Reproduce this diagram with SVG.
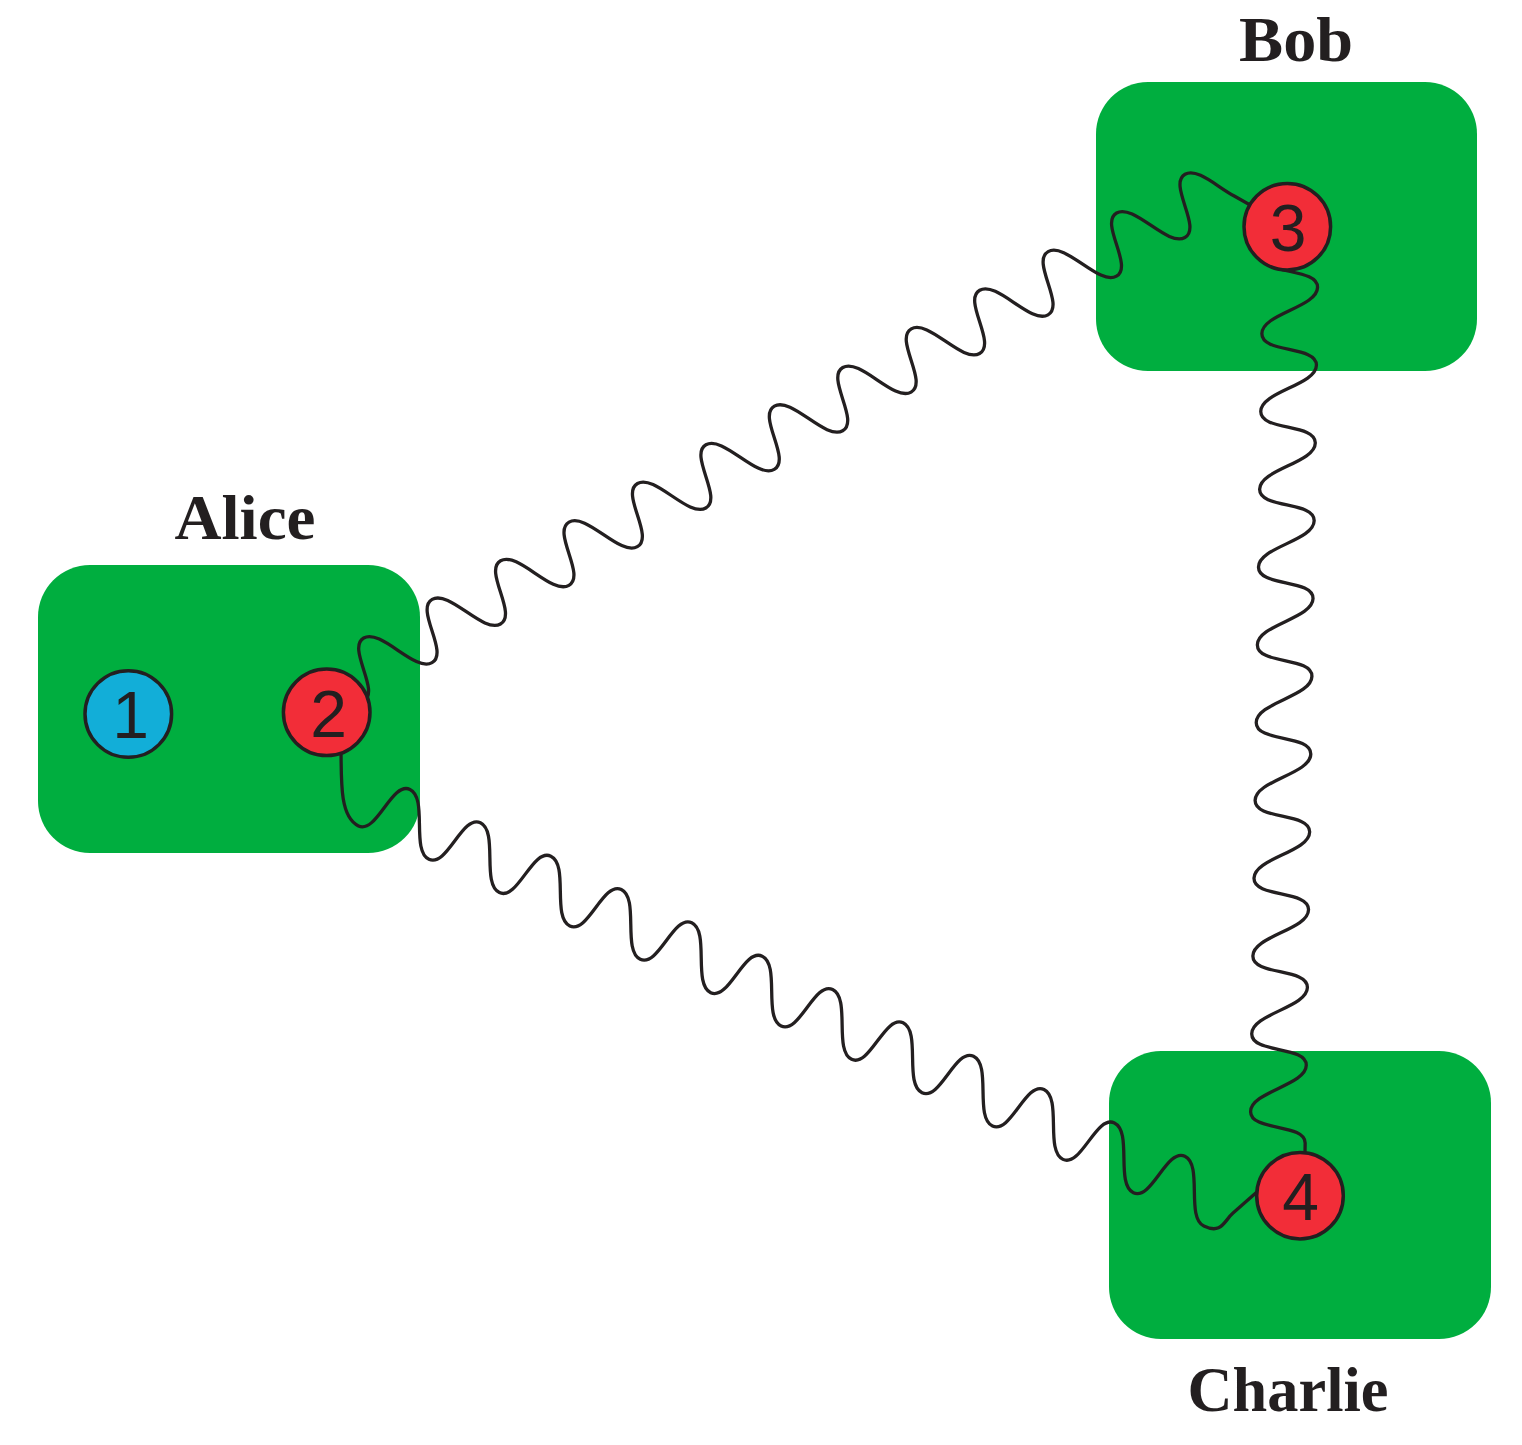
<svg xmlns="http://www.w3.org/2000/svg" width="1522" height="1445" viewBox="0 0 1522 1445">
<style>
.bg{fill:#ffffff}
.box{fill:#00AE3F}
.lbl{font-family:"Liberation Serif","Times New Roman",serif;font-weight:bold;font-size:64px;fill:#231F20;text-anchor:middle}
.wave{fill:none;stroke:#231F20;stroke-width:3.3;stroke-linecap:round;stroke-linejoin:round}
.nd{stroke:#231F20;stroke-width:3.5}
.blue{fill:#12AED8}
.red{fill:#F22D38}
.num{font-family:"Liberation Sans",Arial,sans-serif;font-size:66px;fill:#231F20;text-anchor:middle}
</style>
<rect class="bg" x="0" y="0" width="1522" height="1445"/>
<g id="alice">
<rect class="box" x="38" y="565" width="382" height="288" rx="52" ry="52"/>
<text class="lbl" x="245" y="539.3" textLength="141" lengthAdjust="spacingAndGlyphs">Alice</text>
</g>
<g id="bob">
<rect class="box" x="1096" y="82" width="381" height="289" rx="52" ry="52"/>
<text class="lbl" x="1296" y="60.7" textLength="114" lengthAdjust="spacingAndGlyphs">Bob</text>
</g>
<g id="charlie">
<rect class="box" x="1109" y="1051" width="382" height="288" rx="52" ry="52"/>
<text class="lbl" x="1288" y="1411" textLength="201" lengthAdjust="spacingAndGlyphs">Charlie</text>
</g>
<g id="connectors">
<path id="e2-3" class="wave" transform="translate(651 507.4) rotate(-29.45)" d="M -345.6 27.5 c 20 0 11.2 -55 31.2 -55 c 20 0 27.4 55 47.4 55 c 20 0 11.2 -55 31.2 -55 c 20 0 27.4 55 47.4 55 c 20 0 11.2 -55 31.2 -55 c 20 0 27.4 55 47.4 55 c 20 0 11.2 -55 31.2 -55 c 20 0 27.4 55 47.4 55 c 20 0 11.2 -55 31.2 -55 c 20 0 27.4 55 47.4 55 c 20 0 11.2 -55 31.2 -55 c 20 0 27.4 55 47.4 55 c 20 0 11.2 -55 31.2 -55 c 20 0 27.4 55 47.4 55 c 20 0 11.2 -55 31.2 -55 c 20 0 27.4 55 47.4 55 c 20 0 11.2 -55 31.2 -55 c 20 0 27.4 55 47.4 55 c 20 0 11.2 -55 31.2 -55 c 20 0 27.4 55 47.4 55 c 20 0 11.2 -55 31.2 -55 c 20 0 27.4 55 47.4 55 c 20 0 11.2 -55 31.2 -55 c 20 0 27.4 55 47.4 55 c 20 0 11.2 -55 31.2 -55 c 14 0 21.83 26.95 32.18 43.12 L 692.2 67.7"/>
<path id="e3-4" class="wave" transform="translate(1290.3 270) rotate(90.83)" d="M -0.21 8.14 C 3.44 -7.7 5 -27.5 17 -27.5 c 20 0 27 55 47 55 c 20 0 10.8 -55 30.8 -55 c 20 0 27 55 47 55 c 20 0 10.8 -55 30.8 -55 c 20 0 27 55 47 55 c 20 0 10.8 -55 30.8 -55 c 20 0 27 55 47 55 c 20 0 10.8 -55 30.8 -55 c 20 0 27 55 47 55 c 20 0 10.8 -55 30.8 -55 c 20 0 27 55 47 55 c 20 0 10.8 -55 30.8 -55 c 20 0 27 55 47 55 c 20 0 10.8 -55 30.8 -55 c 20 0 27 55 47 55 c 20 0 10.8 -55 30.8 -55 c 20 0 27 55 47 55 c 20 0 10.8 -55 30.8 -55 c 20 0 27 55 47 55 c 20 0 10.8 -55 30.8 -55 c 20 0 27 55 47 55 c 20 0 10.8 -55 30.8 -55 l 12 0"/>
<path id="e2-4" class="wave" transform="translate(398.2 814.3) rotate(25.33)" d="M -81.3 -38.2 C -64.2 -2 -50.94 27.5 -30.94 27.5 c 20 0 10.94 -55 30.94 -55 c 20 0 27 55 47 55 c 20 0 10.94 -55 30.94 -55 c 20 0 27 55 47 55 c 20 0 10.94 -55 30.94 -55 c 20 0 27 55 47 55 c 20 0 10.94 -55 30.94 -55 c 20 0 27 55 47 55 c 20 0 10.94 -55 30.94 -55 c 20 0 27 55 47 55 c 20 0 10.94 -55 30.94 -55 c 20 0 27 55 47 55 c 20 0 10.94 -55 30.94 -55 c 20 0 27 55 47 55 c 20 0 10.94 -55 30.94 -55 c 20 0 27 55 47 55 c 20 0 10.94 -55 30.94 -55 c 20 0 27 55 47 55 c 20 0 10.94 -55 30.94 -55 c 20 0 27 55 47 55 c 20 0 10.94 -55 30.94 -55 c 20 0 27 55 47 55 c 20 0 10.94 -55 30.94 -55 c 20 0 27 55 47 55 C 924.3 27.5 920.3 14.2 925.2 3.3 L 958.3 -73.9"/>
</g>
<g id="n1">
<circle class="nd blue" cx="128.3" cy="714" r="43.3"/>
<text class="num" x="130.7" y="738.3">1</text>
</g>
<g id="n2">
<circle class="nd red" cx="326.7" cy="712.3" r="43.3"/>
<text class="num" x="328.5" y="736.6">2</text>
</g>
<g id="n3">
<circle class="nd red" cx="1287.3" cy="226.7" r="43.3"/>
<text class="num" x="1288" y="251">3</text>
</g>
<g id="n4">
<circle class="nd red" cx="1300" cy="1195.7" r="43.3"/>
<text class="num" x="1300.7" y="1220">4</text>
</g>
</svg>
